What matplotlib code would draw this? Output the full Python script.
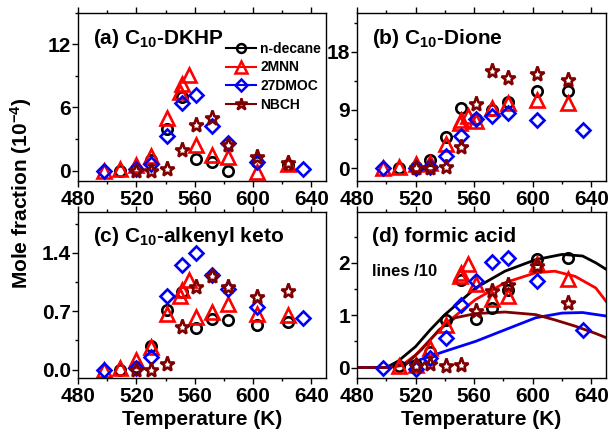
import numpy as np
import matplotlib
matplotlib.use("Agg")
import matplotlib.pyplot as plt
from matplotlib.ticker import MultipleLocator

plt.rcParams['font.family'] = ['Liberation Sans', 'DejaVu Sans']
plt.rcParams['font.weight'] = 'bold'
plt.rcParams['mathtext.fontset'] = 'custom'
plt.rcParams['mathtext.rm'] = 'Liberation Sans:bold'
plt.rcParams['mathtext.bf'] = 'Liberation Sans:bold'
plt.rcParams['mathtext.it'] = 'Liberation Sans:bold'

nan = np.nan
series_names = ['n-decane', '2MNN', '27DMOC', 'NBCH']

# temperatures (K) per fuel
T_decane = [509, 520, 530, 541, 551, 561, 572, 583, 603, 624]
T_2mnn = [498, 509, 520, 530, 541, 550, 551, 556, 561, 572, 583, 603, 624]
T_27dmoc = [498, 520, 530, 541, 551, 561, 572, 583, 603, 634]
T_nbch = [520, 530, 541, 551, 561, 572, 583, 603, 624]

# (a) C10-DKHP
a_decane = [0.0, 0.1, 1.0, 4.0, 7.0, 1.05, 0.8, 0.0, 0.8, 0.5]
a_2mnn = [0.0, 0.1, 0.5, 1.4, 5.0, 7.5, 8.2, 9.1, 2.4, 1.45, 1.3, -0.1, 0.6]
a_27dmoc = [0.0, 0.1, 0.6, 3.3, 6.4, 7.15, 4.2, 2.65, 0.77, 0.13]
a_nbch = [0.0, 0.0, 0.1, 1.95, 4.3, 5.0, 2.4, 1.3, 0.67]

# (b) C10-Dione
b_decane = [0.0, 0.2, 1.2, 4.8, 9.25, 7.6, 9.0, 10.2, 12.0, 12.0]
b_2mnn = [0.0, 0.2, 0.6, 0.8, 3.7, 7.0, 7.4, 8.0, 7.3, 9.3, 10.0, 10.6, 10.0]
b_27dmoc = [0.0, 0.0, 0.1, 1.9, 4.9, 7.6, 8.0, 8.5, 7.4, 5.9]
b_nbch = [0.0, 0.0, 0.2, 3.3, 9.9, 15.0, 13.9, 14.5, 13.7]

# (c) C10-alkenyl keto
c_decane = [0.0, 0.03, 0.285, 0.71, 0.93, 0.5, 0.61, 0.59, 0.54, 0.57]
c_2mnn = [0.0, 0.02, 0.12, 0.27, 0.67, 0.88, 0.95, 1.07, 0.63, 0.69, 0.79, 0.67, 0.66]
c_27dmoc = [0.0, 0.02, 0.15, 0.88, 1.26, 1.4, 1.14, 0.97, 0.75, 0.62]
c_nbch = [0.0, 0.0, 0.065, 0.51, 0.99, 1.12, 0.99, 0.87, 0.94]

# (d) formic acid
d_decane = [0.02, 0.05, 0.3, 0.91, 1.68, 0.93, 1.14, 1.49, 2.08, 2.1]
d_2mnn = [nan, 0.02, 0.05, 0.38, 0.82, 1.75, 1.81, 1.98, 1.6, 1.3, 1.37, 1.97, 1.7]
d_27dmoc = [0.0, -0.02, 0.19, 0.56, 1.2, 1.66, 2.01, 2.1, 1.66, 0.72]
d_nbch = [0.03, 0.06, 0.03, 0.05, 1.07, 1.46, 1.58, 1.93, 1.23]

# (d) model lines (/10)
Tm_decane = [480, 500, 508, 520, 530, 540, 552, 561, 581, 602, 620, 634, 643, 651]
m_decane = [0.0, 0.0, 0.12, 0.40, 0.72, 1.01, 1.30, 1.52, 1.84, 2.06, 2.16, 2.13, 2.0, 1.86]
Tm_2mnn = [480, 500, 511, 520, 531, 540, 552, 561, 581, 602, 615, 629, 643, 651]
m_2mnn = [0.0, 0.0, 0.05, 0.24, 0.56, 0.82, 1.10, 1.30, 1.62, 1.81, 1.84, 1.74, 1.52, 1.23]
Tm_27dmoc = [480, 500, 520, 540, 561, 581, 602, 620, 634, 651]
m_27dmoc = [0.0, 0.0, 0.12, 0.31, 0.50, 0.72, 0.95, 1.04, 1.05, 0.98]
Tm_nbch = [480, 502, 513, 524, 536, 547, 561, 581, 602, 615, 629, 643, 651]
m_nbch = [0.0, 0.0, 0.05, 0.34, 0.72, 0.95, 1.03, 1.06, 1.01, 0.91, 0.79, 0.65, 0.56]

Ts = [T_decane, T_2mnn, T_27dmoc, T_nbch]
panels = [
    ([a_decane, a_2mnn, a_27dmoc, a_nbch], r'(a) C$_{10}$-DKHP', (-1, 15), 6, 3),
    ([b_decane, b_2mnn, b_27dmoc, b_nbch], r'(b) C$_{10}$-Dione', (-2, 24), 9, 4.5),
    ([c_decane, c_2mnn, c_27dmoc, c_nbch], r'(c) C$_{10}$-alkenyl keto', (-0.1, 1.89), 0.7, 0.35),
    ([d_decane, d_2mnn, d_27dmoc, d_nbch], '(d) formic acid', (-0.2, 2.97), 1, 0.5),
]
tick_fmt = [None, None, '{:.1f}', '{:.0f}']

colors = ['black', '#FF0000', '#0000FF', '#7F0000']
markers = ['o', '^', 'D', '*']
msizes = [7.5, 10, 7, 11]

fig = plt.figure(figsize=(6.09, 4.29), dpi=100)
W, H = 609, 429
boxes = [(78, 13, 326, 181), (357, 13, 606, 181), (78, 212, 326, 378), (357, 212, 606, 378)]
axes = []
for (x0, y0, x1, y1) in boxes:
    axes.append(fig.add_axes([x0 / W, (H - y1) / H, (x1 - x0) / W, (y1 - y0) / H]))

for i, (ax, (vals, title, ylim, major, minor)) in enumerate(zip(axes, panels)):
    for j in range(4):
        ax.plot(Ts[j], vals[j], linestyle='none', marker=markers[j], ms=msizes[j],
                mfc='none', mec=colors[j], mew=1.9, label=series_names[j])
    ax.set_xlim(480, 650)
    ax.set_ylim(*ylim)
    ax.xaxis.set_major_locator(MultipleLocator(40))
    ax.xaxis.set_minor_locator(MultipleLocator(20))
    ax.yaxis.set_major_locator(MultipleLocator(major))
    ax.yaxis.set_minor_locator(MultipleLocator(minor))
    ax.tick_params(axis='x', which='major', direction='out', length=4, width=1, pad=2.5,
                   labelsize=15, top=True)
    ax.tick_params(axis='x', which='minor', direction='out', length=2.5, width=1, top=True)
    ax.tick_params(axis='y', which='major', direction='out', length=4, width=1, pad=1,
                   labelsize=15)
    ax.tick_params(axis='y', which='minor', direction='out', length=2.5, width=1)
    if tick_fmt[i] is not None:
        fmt = tick_fmt[i]
        ax.yaxis.set_major_formatter(matplotlib.ticker.FuncFormatter(lambda v, p, f=fmt: f.format(v)))
    for lab in ax.get_xticklabels() + ax.get_yticklabels():
        lab.set_fontweight('bold')
    for sp in ax.spines.values():
        sp.set_linewidth(1.0)
    ax.text(0.06, 0.85, title, transform=ax.transAxes, fontsize=15, fontweight='bold',
            va='center', ha='left')
    if i >= 2:
        ax.set_xlabel('Temperature (K)', fontsize=15, fontweight='bold', labelpad=3)

# model lines in (d)
axd = axes[3]
for Tm, m, c in zip([Tm_decane, Tm_2mnn, Tm_27dmoc, Tm_nbch],
                    [m_decane, m_2mnn, m_27dmoc, m_nbch], colors):
    axd.plot(Tm, m, color=c, lw=2, zorder=1)
axd.text(0.059, 0.64, 'lines /10', transform=axd.transAxes, fontsize=12,
         fontweight='bold', va='center', ha='left')

# legend in (a)
handles = []
for j in range(4):
    h, = axes[0].plot([], [], color=colors[j], lw=1.5, marker=markers[j], ms=msizes[j] * 0.85,
                      mfc='none', mec=colors[j], mew=1.8)
    handles.append(h)
leg = axes[0].legend(handles, series_names, loc='upper left', bbox_to_anchor=(0.595, 0.83),
                     frameon=False, fontsize=10, handlelength=2.2, handletextpad=0.3,
                     labelspacing=0.35, borderaxespad=0, borderpad=0)
for t in leg.get_texts():
    t.set_fontweight('bold')

fig.text(0.034, 0.55, 'Mole fraction (10$^{-4}$)', rotation=90, fontsize=15,
         fontweight='bold', ha='center', va='center')

fig.savefig('out.png', dpi=100)
